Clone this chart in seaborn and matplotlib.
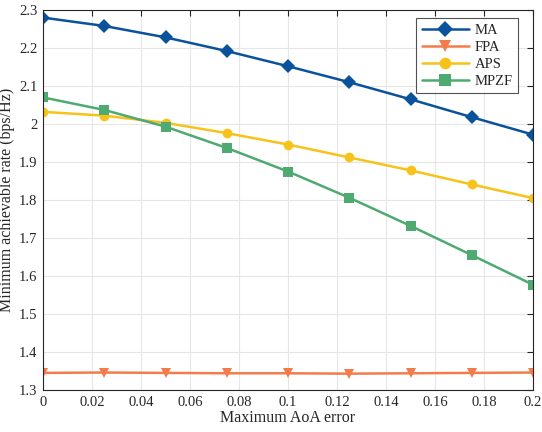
import numpy as np
import pandas as pd
import seaborn as sns
import matplotlib
matplotlib.use("Agg")
import matplotlib.pyplot as plt

aoa_error = [0, 0.025, 0.05, 0.075, 0.1, 0.125, 0.15, 0.175, 0.2]
ma = [2.280, 2.258, 2.228, 2.192, 2.152, 2.110, 2.065, 2.018, 1.972]
fpa = [1.345, 1.346, 1.345, 1.344, 1.344, 1.343, 1.344, 1.345, 1.346]
aps = [2.032, 2.022, 2.003, 1.976, 1.946, 1.912, 1.878, 1.841, 1.805]
mpzf = [2.070, 2.037, 1.993, 1.937, 1.875, 1.806, 1.732, 1.655, 1.577]

x_ticks = [0, 0.02, 0.04, 0.06, 0.08, 0.1, 0.12, 0.14, 0.16, 0.18, 0.2]
x_tick_labels = ["0", "0.02", "0.04", "0.06", "0.08", "0.1", "0.12", "0.14", "0.16", "0.18", "0.2"]
y_ticks = [1.3, 1.4, 1.5, 1.6, 1.7, 1.8, 1.9, 2.0, 2.1, 2.2, 2.3]
y_tick_labels = ["1.3", "1.4", "1.5", "1.6", "1.7", "1.8", "1.9", "2", "2.1", "2.2", "2.3"]

series = {"MA": ma, "FPA": fpa, "APS": aps, "MPZF": mpzf}
colors = {"MA": "#0a529b", "FPA": "#f47c4c", "APS": "#f7c31a", "MPZF": "#4eaa70"}
markers = {"MA": "D", "FPA": "v", "APS": "o", "MPZF": "s"}

df = pd.DataFrame([
    {"err": e, "rate": v, "scheme": name}
    for name, vals in series.items() for e, v in zip(aoa_error, vals)
])

sns.set_style("whitegrid")
plt.rcParams["font.family"] = ["Liberation Serif", "DejaVu Serif"]

fig = plt.figure(figsize=(5.42, 4.32), dpi=100)
ax = fig.add_axes([43 / 542, 42 / 432, 490 / 542, 380 / 432])

sns.lineplot(data=df, x="err", y="rate", hue="scheme", style="scheme",
             palette=colors, markers=markers, dashes=False, linewidth=1.8,
             markersize=7, markeredgewidth=0, ax=ax)

ax.set_xlim(0, 0.2)
ax.set_ylim(1.3, 2.3)
ax.set_xticks(x_ticks)
ax.set_xticklabels(x_tick_labels)
ax.set_yticks(y_ticks)
ax.set_yticklabels(y_tick_labels)
ax.set_xlabel("Maximum AoA error", fontsize=11.5, labelpad=1)
ax.set_ylabel("Minimum achievable rate (bps/Hz)", fontsize=11.5, labelpad=3)
ax.tick_params(direction="in", length=4, labelsize=10.5, color="#262626",
               top=True, right=True, pad=4)
ax.grid(True, color="#e6e6e6", linewidth=0.8)
for s in ax.spines.values():
    s.set_color("#262626")
    s.set_linewidth(0.8)

leg = ax.legend(loc="upper right", bbox_to_anchor=(0.985, 0.998), fontsize=10.5,
                frameon=True, fancybox=False, edgecolor="#262626",
                handlelength=3.2, handletextpad=0.4, borderpad=0.4,
                labelspacing=0.25, markerscale=1.2)
leg.get_frame().set_linewidth(0.8)

fig.savefig("out.png", dpi=100)
